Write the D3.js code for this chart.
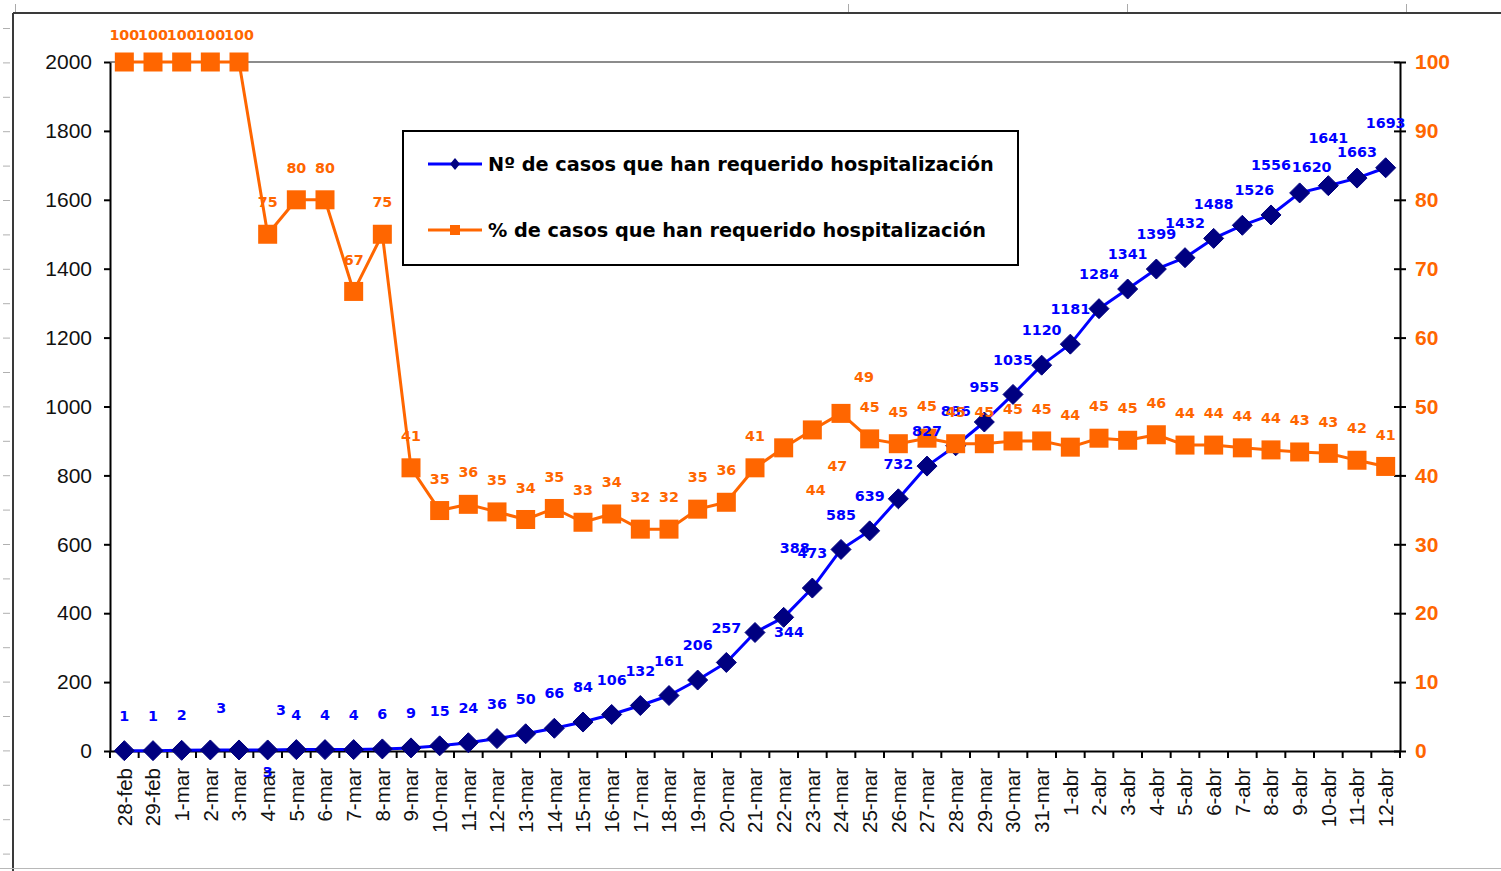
<!DOCTYPE html>
<html>
<head>
<meta charset="utf-8">
<script src="https://cdn.jsdelivr.net/npm/d3@7/dist/d3.min.js"></script>
<style>
  html, body { margin: 0; padding: 0; background: #fff; }
  svg { display: block; }
</style>
</head>
<body>
<svg id="chart" width="1501" height="871"></svg>
<script>
// ---------------- DATA ----------------
const categories = [
  "28-feb","29-feb",
  "1-mar","2-mar","3-mar","4-mar","5-mar","6-mar","7-mar","8-mar","9-mar","10-mar",
  "11-mar","12-mar","13-mar","14-mar","15-mar","16-mar","17-mar","18-mar","19-mar","20-mar",
  "21-mar","22-mar","23-mar","24-mar","25-mar","26-mar","27-mar","28-mar","29-mar","30-mar","31-mar",
  "1-abr","2-abr","3-abr","4-abr","5-abr","6-abr","7-abr","8-abr","9-abr","10-abr","11-abr","12-abr"
];
const hospitalized = [
  1, 1, 2, 3, 3, 3, 4, 4, 4, 6, 9, 15, 24, 36, 50, 66, 84, 106, 132, 161, 206, 257,
  344, 388, 473, 585, 639, 732, 827, 886, 955, 1035, 1120,
  1181, 1284, 1341, 1399, 1432, 1488, 1526, 1556, 1620, 1641, 1663, 1693
];
const percentHospitalized = [
  100, 100, 100, 100, 100, 75, 80, 80, 66.7, 75, 41.1, 34.9, 35.8, 34.7, 33.6, 35.2, 33.2, 34.4, 32.2, 32.2, 35.1, 36.1,
  41.1, 44, 46.6, 49, 45.3, 44.6, 45.4, 44.6, 44.6, 45, 45,
  44.1, 45.4, 45.1, 45.9, 44.4, 44.4, 44, 43.7, 43.4, 43.2, 42.2, 41.3
];
const leftTicks = [0, 200, 400, 600, 800, 1000, 1200, 1400, 1600, 1800, 2000];
const rightTicks = [0, 10, 20, 30, 40, 50, 60, 70, 80, 90, 100];
const seriesNames = [
  "Nº de casos que han requerido hospitalización",
  "% de casos que han requerido hospitalización"
];

// ---------------- LAYOUT ----------------
const BLUE = "#0000FF", NAVY = "#000080", ORANGE = "#FF6600";
const plot = { left: 110, right: 1400, top: 62, bottom: 751 };
const axisFont = "'Liberation Sans', Arial, sans-serif";
const labelFont = "'DejaVu Sans', Verdana, sans-serif";

// manual label nudges (like moved Excel data labels), by point index
const blueNudge = { 3: [11, -7], 4: [42, -5], 5: [0, 57], 22: [34, 34], 23: [11, -34],
  39: [12, 0], 40: [0, -15], 41: [12, 9], 42: [0, -13], 43: [0, 9], 44: [0, -10] };
const orangeNudge = { 0: [0, 5], 1: [0, 5], 2: [0, 5], 3: [0, 5], 4: [0, 5],
  23: [32, 74], 24: [25, 68], 25: [23, -5] };

const svg = d3.select("#chart");

// spreadsheet frame artifacts
svg.append("line").attr("x1", 13).attr("x2", 1501).attr("y1", 13).attr("y2", 13)
  .attr("stroke", "#3a3a3a").attr("stroke-width", 2);
svg.append("line").attr("x1", 13).attr("x2", 13).attr("y1", 13).attr("y2", 871)
  .attr("stroke", "#3a3a3a").attr("stroke-width", 2);
svg.append("line").attr("x1", 0).attr("x2", 1501).attr("y1", 868.5).attr("y2", 868.5)
  .attr("stroke", "#b8b8b8").attr("stroke-width", 1);
[15, 848, 1127, 1406].forEach(xx => {
  svg.append("line").attr("x1", xx + 0.5).attr("x2", xx + 0.5).attr("y1", 4).attr("y2", 12)
    .attr("stroke", "#aaaaaa").attr("stroke-width", 1);
});
for (let yy = 28.5; yy < 866; yy += 34.4) {
  svg.append("line").attr("x1", 3).attr("x2", 10).attr("y1", yy).attr("y2", yy)
    .attr("stroke", "#b0b0b0").attr("stroke-width", 1);
}

// ---------------- SCALES ----------------
const x = d3.scaleBand().domain(categories).range([plot.left, plot.right]).paddingInner(0).paddingOuter(0);
const cx = c => x(c) + x.bandwidth() / 2;
const yL = d3.scaleLinear().domain([0, 2000]).range([plot.bottom, plot.top]);
const yR = d3.scaleLinear().domain([0, 100]).range([plot.bottom, plot.top]);

// plot-area top border (gray)
svg.append("line").attr("x1", plot.left).attr("x2", plot.right)
  .attr("y1", plot.top).attr("y2", plot.top).attr("stroke", "#8c8c8c").attr("stroke-width", 2);

// ---------------- AXES ----------------
const gL = svg.append("g").attr("transform", `translate(${plot.left},0)`)
  .call(d3.axisLeft(yL).tickValues(leftTicks).tickFormat(d3.format("d"))
    .tickSize(6).tickPadding(12).tickSizeOuter(0));
gL.select(".domain").attr("stroke", "#000").attr("stroke-width", 2);
gL.selectAll(".tick line").attr("stroke", "#000").attr("stroke-width", 2);
gL.selectAll("text").attr("font-family", axisFont).attr("font-size", 21).attr("fill", "#111");

const gR = svg.append("g").attr("transform", `translate(${plot.right},0)`)
  .call(d3.axisRight(yR).tickValues(rightTicks).tickFormat(d3.format("d"))
    .tickSize(6).tickPadding(9).tickSizeOuter(0));
gR.select(".domain").attr("stroke", "#000").attr("stroke-width", 2);
gR.selectAll(".tick line").attr("x1", -6).attr("stroke", "#000").attr("stroke-width", 2);
gR.selectAll("text").attr("font-family", axisFont).attr("font-size", 21)
  .attr("font-weight", "bold").attr("fill", ORANGE);

const gB = svg.append("g").attr("transform", `translate(0,${plot.bottom})`)
  .call(d3.axisBottom(x).tickSize(0).tickSizeOuter(0));
gB.select(".domain").attr("stroke", "#000").attr("stroke-width", 2);
gB.selectAll(".tick text")
  .attr("transform", "rotate(-90)")
  .attr("x", -17).attr("y", 0).attr("dy", "0.35em")
  .attr("text-anchor", "end")
  .attr("font-family", axisFont).attr("font-size", 20.5).attr("fill", "#111");
// tick marks between categories
const bounds = categories.map(c => x(c)).concat([plot.right]);
gB.selectAll(".bound").data(bounds).enter().append("line")
  .attr("x1", d => d).attr("x2", d => d).attr("y1", 0).attr("y2", 7)
  .attr("stroke", "#000").attr("stroke-width", 2);

// ---------------- SERIES ----------------
const blueLine = d3.line().x((d, i) => cx(categories[i])).y(d => yL(d));
svg.append("path").datum(hospitalized).attr("d", blueLine)
  .attr("fill", "none").attr("stroke", BLUE).attr("stroke-width", 3).attr("stroke-linejoin", "round");
svg.selectAll(".dia").data(hospitalized).enter().append("path")
  .attr("transform", (d, i) => `translate(${cx(categories[i])},${yL(d)})`)
  .attr("d", "M0,-10L10,0L0,10L-10,0Z")
  .attr("fill", NAVY).attr("stroke", NAVY).attr("stroke-width", 1);

const orangeLine = d3.line().x((d, i) => cx(categories[i])).y(d => yR(d));
svg.append("path").datum(percentHospitalized).attr("d", orangeLine)
  .attr("fill", "none").attr("stroke", ORANGE).attr("stroke-width", 3).attr("stroke-linejoin", "round");
svg.selectAll(".sq").data(percentHospitalized).enter().append("rect")
  .attr("x", (d, i) => cx(categories[i]) - 9.5).attr("y", d => yR(d) - 9.5)
  .attr("width", 19).attr("height", 19).attr("fill", ORANGE);

// ---------------- DATA LABELS ----------------
svg.selectAll(".bl").data(hospitalized).enter().append("text")
  .attr("x", (d, i) => cx(categories[i]) + (blueNudge[i] ? blueNudge[i][0] : 0))
  .attr("y", (d, i) => yL(d) - 35 + (blueNudge[i] ? blueNudge[i][1] : 0))
  .attr("dy", "0.36em").attr("text-anchor", "middle")
  .attr("font-family", labelFont).attr("font-weight", "bold").attr("font-size", 14.3)
  .attr("fill", BLUE).text(d => d3.format("d")(d));

svg.selectAll(".ol").data(percentHospitalized).enter().append("text")
  .attr("x", (d, i) => cx(categories[i]) + (orangeNudge[i] ? orangeNudge[i][0] : 0))
  .attr("y", (d, i) => yR(d) - 32 + (orangeNudge[i] ? orangeNudge[i][1] : 0))
  .attr("dy", "0.36em").attr("text-anchor", "middle")
  .attr("font-family", labelFont).attr("font-weight", "bold").attr("font-size", 14.3)
  .attr("fill", ORANGE).text(d => d3.format(".0f")(d));

// ---------------- LEGEND ----------------
const lg = svg.append("g");
lg.append("rect").attr("x", 403).attr("y", 131).attr("width", 615).attr("height", 134)
  .attr("fill", "#fff").attr("stroke", "#000").attr("stroke-width", 2);
const legendRows = [
  { name: seriesNames[0], color: BLUE, y: 164, marker: "dia" },
  { name: seriesNames[1], color: ORANGE, y: 230, marker: "sq" }
];
legendRows.forEach(r => {
  lg.append("line").attr("x1", 428).attr("x2", 482).attr("y1", r.y).attr("y2", r.y)
    .attr("stroke", r.color).attr("stroke-width", 3);
  if (r.marker === "dia") {
    lg.append("path").attr("transform", `translate(455,${r.y})`)
      .attr("d", "M0,-6L5,0L0,6L-5,0Z").attr("fill", NAVY);
  } else {
    lg.append("rect").attr("x", 450).attr("y", r.y - 5).attr("width", 10).attr("height", 10)
      .attr("fill", ORANGE);
  }
  lg.append("text").attr("x", 488).attr("y", r.y).attr("dy", "0.36em")
    .attr("font-family", labelFont).attr("font-weight", "bold").attr("font-size", 19.3)
    .attr("fill", "#000").text(r.name);
});
</script>
</body>
</html>
